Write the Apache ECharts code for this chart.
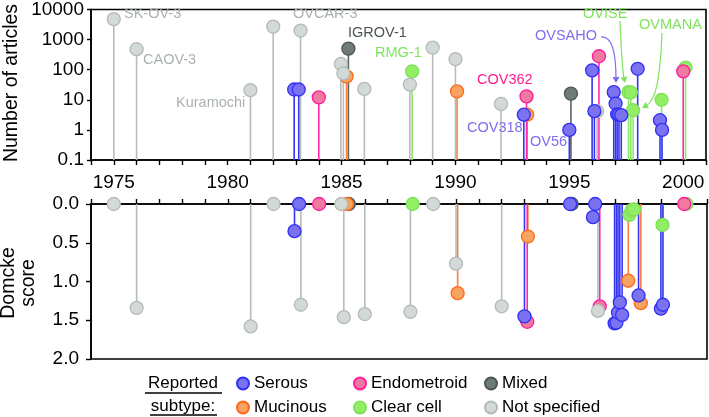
<!DOCTYPE html>
<html><head><meta charset="utf-8">
<script src="https://cdn.jsdelivr.net/npm/echarts@6/dist/echarts.min.js"></script>
<style>html,body{margin:0;padding:0;background:#fff}#c{width:709px;height:417px}</style>
</head><body><div id="c"></div>
<script>
// ---- data (year with small jitter, number of articles, Domcke score) ----
const serousYear     = [1982.92, 1983.12, 1993.0, 1995.0, 1996.0, 1996.1, 1996.95, 1997.03, 1997.1, 1997.18, 1997.28, 1998.0, 1998.98, 1999.07];
const serousArticles = [22, 22, 3.2, 1.0, 95, 4.2, 18, 7.5, 3.3, 3.2, 3.1, 107, 2.1, 1.0];
const serousScore    = [0.35, 0, 1.45, 0, 0.17, 0, 1.54, 1.53, 1.40, 1.27, 1.43, 1.18, 1.35, 1.30];

const mucinousYear     = [1985.22, 1990.07, 1993.15, 1997.55, 1998.1];
const mucinousArticles = [60, 19, 3.2, null, null];
const mucinousScore    = [0, 1.15, 0.42, 0.99, 1.28];

const endoYear     = [1984.0, 1993.12, 1996.3, 2000.0];
const endoArticles = [12, 13, 280, 88];
const endoScore    = [0, 1.52, 1.32, 0];

const clearYear     = [1988.1, 1997.6, 1997.7, 1997.8, 1999.05, 2000.1];
const clearArticles = [88, 18, 17.5, 4.5, 10, 118];
const clearScore    = [0, 0.14, 0.08, 0.07, 0.27, 0];

const mixedYear     = [1985.3, 1995.07];
const mixedArticles = [500, 16];
const mixedScore    = [0, 0];

const nsYear     = [1975.0, 1976.0, 1981.0, 1982.0, 1983.2, 1984.97, 1985.08, 1986.0, 1988.0, 1989.0, 1990.0, 1992.0, 1996.22];
const nsArticles = [4800, 480, 21, 2700, 2000, 155, 75, 23, 32, 540, 225, 7.3, 4.2];
const nsScore    = [0, 1.34, 1.58, 0, 1.30, 0, 1.46, 1.42, 1.39, 0, 0.77, 1.32, 1.38];

const topTicks = [0.1, 1, 10, 100, 1000, 10000];
const scoreTicks = [0, 0.5, 1, 1.5, 2];

// ---- styles ----
const FONT = 'Liberation Sans, Arial, sans-serif';
const groups = [
  {name:'Mixed',         year:mixedYear,    art:mixedArticles,    sc:mixedScore,    fill:'#6f7b79', border:'#4c5654', stem:'#59635f'},
  {name:'Mucinous',      year:mucinousYear, art:mucinousArticles, sc:mucinousScore, fill:'#f7a362', border:'#ff6a1a', stem:'#ff7d3a'},
  {name:'Clear cell',    year:clearYear,    art:clearArticles,    sc:clearScore,    fill:'#93ee66', border:'#7fe05c', stem:'#8ce86a'},
  {name:'Endometroid',   year:endoYear,     art:endoArticles,     sc:endoScore,     fill:'#f07a9f', border:'#ff1aa0', stem:'#ff2aa8'},
  {name:'Not specified', year:nsYear,       art:nsArticles,       sc:nsScore,       fill:'#d3d9d6', border:'#b3bbb7', stem:'#b5bdb9'},
  {name:'Serous',        year:serousYear,   art:serousArticles,   sc:serousScore,   fill:'#7b72f0', border:'#3030f5', stem:'#3535f0'}
];

function stem(gi, data, base, color) {
  return {
    type:'custom', xAxisIndex:gi, yAxisIndex:gi, silent:true, z:1, data:data,
    renderItem:function(params, api){
      const x = api.value(0), v = api.value(1);
      const p1 = api.coord([x, base]), p2 = api.coord([x, v]);
      return {type:'line', shape:{x1:p1[0], y1:p1[1], x2:p2[0], y2:p2[1]}, style:{stroke:color, lineWidth:1.6}};
    }
  };
}

const series = [];
groups.forEach(g => {
  const top = [], bot = [];
  g.year.forEach((y, i) => {
    if (g.art[i] != null) top.push([y, g.art[i]]);
    bot.push([y, g.sc[i]]);
  });
  series.push(stem(0, top, 0.1, g.stem));
  series.push(stem(1, bot, 0, g.stem));
});
groups.forEach(g => {
  const top = [], bot = [];
  g.year.forEach((y, i) => {
    if (g.art[i] != null) top.push([y, g.art[i]]);
    bot.push([y, g.sc[i]]);
  });
  [top, bot].forEach((d, gi) => series.push({
    type:'scatter', name:g.name, xAxisIndex:gi, yAxisIndex:gi, data:d, symbolSize:13, clip:false, z:3,
    itemStyle:{color:g.fill, borderColor:g.border, borderWidth:1.3, opacity:1}
  }));
});

const axisLine = {show:true, onZero:false, lineStyle:{color:'#000', width:1.6}};
const tickStyle = {lineStyle:{color:'#000', width:1.4}};

function txt(text, x, y, color, size, align) {
  return {type:'text', x:x, y:y, silent:true, z:10,
    style:{text:text, fill:color, font:(size||14.5)+'px '+FONT, textAlign:align||'left', textVerticalAlign:'middle'}};
}
function arrowHead(x, y, ang, color) {
  const L = 6, W = 3.5;
  const c = Math.cos(ang), s = Math.sin(ang);
  return {type:'polygon', silent:true, z:10, shape:{points:[[x, y],[x - L*c + W*s, y - L*s - W*c],[x - L*c - W*s, y - L*s + W*c]]}, style:{fill:color}};
}
const GREY_T = '#aab2ae', BLUE_T = '#7f6ff0', PINK_T = '#ff1a8c', GREEN_T = '#7fe35e', DARK_T = '#4a5452';

const graphic = [
  // y-axis titles
  {type:'text', x:12, y:83, rotation:Math.PI/2, silent:true, style:{text:'Number of articles', font:'19.5px '+FONT, fill:'#000', textAlign:'center', textVerticalAlign:'middle'}},
  {type:'text', x:9, y:283, rotation:Math.PI/2, silent:true, style:{text:'Domcke', font:'19.5px '+FONT, fill:'#000', textAlign:'center', textVerticalAlign:'middle'}},
  {type:'text', x:29, y:283, rotation:Math.PI/2, silent:true, style:{text:'score', font:'19.5px '+FONT, fill:'#000', textAlign:'center', textVerticalAlign:'middle'}},
  // annotations
  txt('SK-OV-3', 124, 14, GREY_T),
  txt('CAOV-3', 143, 60, GREY_T),
  txt('Kuramochi', 176, 103, GREY_T),
  txt('OVCAR-3', 293, 14, GREY_T),
  txt('IGROV-1', 348, 33, DARK_T),
  txt('RMG-1', 375, 53, GREEN_T),
  txt('COV362', 477, 80, PINK_T),
  txt('COV318', 467, 128, BLUE_T),
  txt('OV56', 530, 142, BLUE_T),
  txt('OVSAHO', 535, 36, BLUE_T),
  txt('OVISE', 583, 14, GREEN_T),
  txt('OVMANA', 639, 25, GREEN_T),
  // arrows
  {type:'bezierCurve', silent:true, z:10, shape:{x1:601, y1:37, cpx1:612, cpy1:36, cpx2:616, cpy2:52, x2:616, y2:79}, style:{stroke:BLUE_T, lineWidth:1.2, fill:null}},
  arrowHead(616, 83, Math.PI/2, BLUE_T),
  {type:'bezierCurve', silent:true, z:10, shape:{x1:620, y1:21, cpx1:621, cpy1:45, cpx2:622, cpy2:65, x2:624, y2:79}, style:{stroke:GREEN_T, lineWidth:1.2, fill:null}},
  arrowHead(625, 83, Math.PI/2 - 0.2, GREEN_T),
  {type:'bezierCurve', silent:true, z:10, shape:{x1:662, y1:33, cpx1:660, cpy1:80, cpx2:656, cpy2:100, x2:646, y2:106}, style:{stroke:GREEN_T, lineWidth:1.2, fill:null}},
  arrowHead(642, 108, Math.PI - 0.5, GREEN_T),
  // legend heading
  txt('Reported', 183, 383, '#000', 17, 'center'),
  txt('subtype:', 183, 406, '#000', 17, 'center'),
  {type:'line', silent:true, shape:{x1:145, y1:393, x2:222, y2:393}, style:{stroke:'#000', lineWidth:1.3}},
  {type:'line', silent:true, shape:{x1:150, y1:415, x2:217, y2:415}, style:{stroke:'#000', lineWidth:1.3}}
];

function legend(left, names) {
  return {left:left, top:375, orient:'vertical', padding:0, itemGap:7, itemWidth:12, itemHeight:12, icon:'circle', selectedMode:false,
    data:names, textStyle:{fontSize:17, fontFamily:FONT, color:'#000'}};
}

const chart = echarts.init(document.getElementById('c'), null, {renderer:'canvas'});
chart.setOption({
  animation:false,
  backgroundColor:'#fff',
  grid:[
    {left:91, right:2, top:6, height:154, show:true, borderColor:'#000', borderWidth:1.6, backgroundColor:'transparent'},
    {left:91, right:2, top:204, height:155, show:true, borderColor:'#000', borderWidth:1.6, backgroundColor:'transparent'}
  ],
  xAxis:[
    {gridIndex:0, type:'value', min:1974, max:2001, interval:1, axisLine:axisLine,
     axisTick:Object.assign({show:true, inside:false, length:5}, tickStyle), splitLine:{show:false},
     axisLabel:{show:true, margin:13, fontSize:19, fontFamily:FONT, color:'#000', formatter:v => (v % 5 === 0 ? String(v) : '')}},
    {gridIndex:1, type:'value', position:'top', min:1974, max:2001, interval:1, axisLine:axisLine,
     axisTick:Object.assign({show:true, inside:false, length:5}, tickStyle), splitLine:{show:false}, axisLabel:{show:false}}
  ],
  yAxis:[
    {gridIndex:0, type:'log', logBase:10, min:topTicks[0], max:topTicks[topTicks.length-1], axisLine:axisLine,
     axisTick:Object.assign({show:true, length:4}, tickStyle), splitLine:{show:false}, minorTick:{show:false},
     axisLabel:{margin:7, fontSize:19, fontFamily:FONT, color:'#000', formatter:v => (v < 1 ? v.toFixed(1) : String(Math.round(v)))}},
    {gridIndex:1, type:'value', inverse:true, min:scoreTicks[0], max:scoreTicks[scoreTicks.length-1], interval:0.5, axisLine:axisLine,
     axisTick:Object.assign({show:true, length:5}, tickStyle), splitLine:{show:false},
     axisLabel:{margin:12, fontSize:19, fontFamily:FONT, color:'#000', formatter:v => v.toFixed(1)}}
  ],
  legend:[
    legend(236, ['Serous','Mucinous']),
    legend(353, ['Endometroid','Clear cell']),
    legend(484, ['Mixed','Not specified'])
  ],
  graphic:graphic,
  series:series
});
</script></body></html>
